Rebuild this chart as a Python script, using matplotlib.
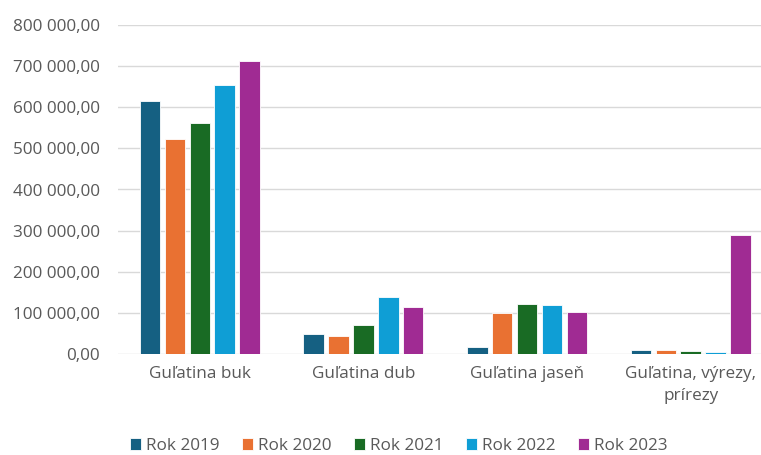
import numpy as np
import matplotlib
matplotlib.use("Agg")
import matplotlib.pyplot as plt
from matplotlib.ticker import FuncFormatter

categories = ["Guľatina buk", "Guľatina dub", "Guľatina jaseň", "Guľatina, výrezy,\nprírezy"]
years = ["Rok 2019", "Rok 2020", "Rok 2021", "Rok 2022", "Rok 2023"]
rok_2019 = [614000, 48500, 17800, 9000]
rok_2020 = [523000, 43000, 100500, 9000]
rok_2021 = [562000, 70000, 121700, 6500]
rok_2022 = [653000, 139000, 119000, 6000]
rok_2023 = [713000, 113600, 103000, 290000]
series = [rok_2019, rok_2020, rok_2021, rok_2022, rok_2023]
colors = ["#156082", "#E97132", "#196B24", "#0F9ED5", "#A02B93"]
yticks = [0, 100000, 200000, 300000, 400000, 500000, 600000, 700000, 800000]

plt.rcParams['font.family'] = ['Open Sans', 'DejaVu Sans']
txt = '#595959'

fig = plt.figure(figsize=(7.61, 4.55), dpi=100)
ax = fig.add_axes([118/761, 101/455, 643/761, 329/455])

x = np.arange(len(categories))
step = 0.152
width = 0.125
for i, (vals, c, lab) in enumerate(zip(series, colors, years)):
    ax.bar(x + (i - 2) * step, vals, width, color=c, label=lab,
           edgecolor='white', linewidth=0.6, zorder=3)

ax.set_ylim(0, 800000)
ax.set_xlim(-0.5, 3.43)
ax.set_yticks(yticks)
ax.yaxis.set_major_formatter(FuncFormatter(lambda v, p: f"{v:,.2f}".replace(",", " ").replace(".", ",")))
ax.set_xticks(x)
ax.set_xticklabels(categories, linespacing=1.45)
ax.grid(axis='y', color='#d9d9d9', linewidth=1, zorder=0)
for s in ax.spines.values():
    s.set_visible(False)
ax.tick_params(axis='both', length=0, labelsize=12.3, colors=txt)
ax.tick_params(axis='y', pad=13)
ax.tick_params(axis='x', pad=9)

fig.legend(loc='center', bbox_to_anchor=(399/761, 9/455), ncol=5, frameon=False,
           fontsize=12.3, labelcolor=txt, handlelength=0.65, handleheight=0.65,
           handletextpad=0.3, columnspacing=1.3)

fig.savefig("out.png", dpi=100)
